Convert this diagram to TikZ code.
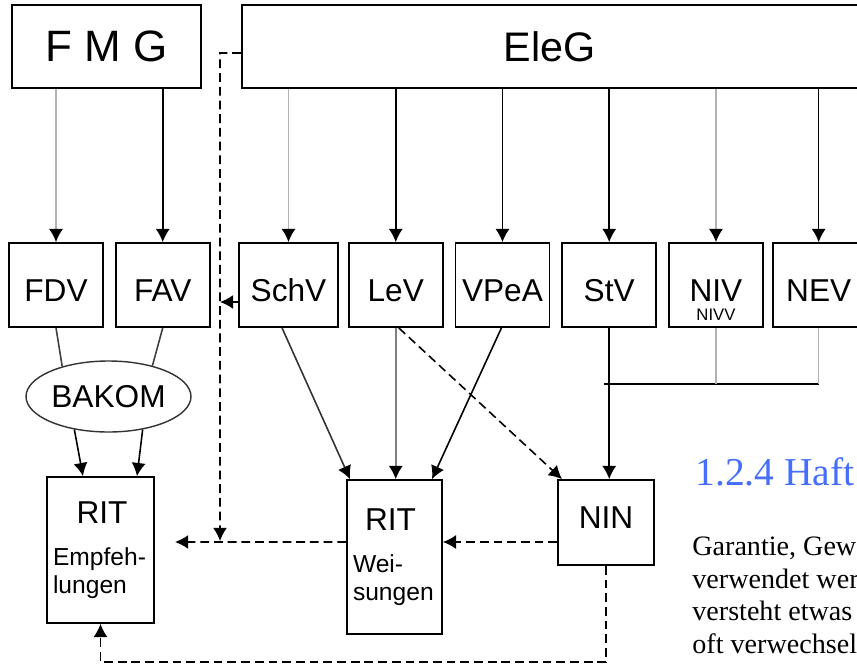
\documentclass[tikz,border=0pt]{standalone}
\usepackage{fontspec}
\setmainfont{Liberation Sans}
\newfontfamily\textserif{Liberation Serif}
\usepackage{xcolor}
\usetikzlibrary{shapes.geometric, arrows.meta, positioning}
\definecolor{headblue}{RGB}{70,110,250}

\begin{document}
\begin{tikzpicture}[
    x=0.02cm, y=-0.02cm,
    box/.style={draw, line width=1pt, inner sep=0pt, minimum width=1.88cm, minimum height=1.68cm, font=\fontsize{18}{21}\selectfont},
    rowbox/.style={box, text height=18.6pt, text depth=0pt},
    ritbox/.style={box, align=left, font=\fontsize{14}{16}\selectfont},
    arr/.style={-{Latex[length=7.5pt, width=8pt, black]}, line width=0.9pt},
    garr/.style={arr, draw=gray!60},
    darr/.style={arr, dash pattern=on 5pt off 2.8pt},
    link/.style={line width=0.9pt},
    glink/.style={link, draw=gray!60}
]
\useasboundingbox (0,0) rectangle (857,665);
\clip (0,0) rectangle (857,665);

% laws at the top
\node[box, minimum width=3.78cm, minimum height=1.66cm, font=\fontsize{25}{30}\selectfont] (fmg) at (106.5,46.5) {F M G};
\node[box, minimum width=13.2cm, minimum height=1.66cm, anchor=west,
      label={[font=\fontsize{23.5}{28}\selectfont, xshift=-0.44cm]center:EleG}] (eleg) at (241,46.5) {};

% ordinances
\node[rowbox] (fdv) at (56,285) {FDV};
\node[rowbox, right=0.22cm of fdv] (fav) {FAV};
\node[rowbox, minimum width=1.98cm] (schv) at (288.5,285) {SchV};
\node[rowbox, right=0.18cm of schv] (lev) {LeV};
\node[rowbox, right=0.22cm of lev] (vpea) {VPeA};
\node[rowbox, right=0.22cm of vpea] (stv) {StV};
\node[rowbox, right=0.22cm of stv,
      label={[font=\fontsize{9.5}{10}\selectfont, inner sep=0pt, label distance=-0.38cm]below:NIVV}] (niv) {NIV};
\node[rowbox, minimum width=1.84cm, right=0.16cm of niv] (nev) {NEV};

\node[draw, ellipse, line width=0.8pt, draw=black!80, inner sep=0pt, minimum width=3.3cm, minimum height=1.42cm,
      font=\fontsize{18}{21}\selectfont] (bakom) at (108.5,396.5) {BAKOM};

% rules
\node[ritbox, minimum width=2.14cm, minimum height=2.92cm, text width=1.9cm] (rite) at (100.5,550)
      {\hspace*{0.47cm}{\fontsize{18}{21}\selectfont RIT}\\[8pt]Empfeh-\\lungen};
\node[ritbox, minimum width=1.9cm, minimum height=3.08cm, text width=1.66cm] (ritw) at (394.5,557)
      {\hspace*{0.24cm}{\fontsize{18}{21}\selectfont RIT}\\[8pt]Wei-\\sungen};
\node[box, minimum width=1.92cm, minimum height=1.7cm, text depth=5.7pt] (nin) at (606,522.5) {NIN};

% page text beside the figure
\node[anchor=base west, inner sep=0pt, text=headblue, font=\textserif\fontsize{22.5}{27}\selectfont] (head) at (695,485) {1.2.4 Haft};
\node[anchor=base west, inner sep=0pt, font=\textserif\fontsize{16}{18}\selectfont] (bodya) at (692,555) {Garantie, Gew};
\node[anchor=base west, inner sep=0pt, font=\textserif\fontsize{16}{18}\selectfont] (bodyb) at (692,588) {verwendet wer};
\node[anchor=base west, inner sep=0pt, font=\textserif\fontsize{16}{18}\selectfont] (bodyc) at (692,620) {versteht etwas};
\node[anchor=base west, inner sep=0pt, font=\textserif\fontsize{16}{18}\selectfont] (bodyd) at (692,653) {oft verwechsel};

\coordinate (bus) at (604,384);
\coordinate (dtop) at (220,53);
\coordinate (dend) at (220,541);
\coordinate (rtip) at (175,542);
\coordinate (bot) at (606,662);

\draw[garr] (fdv |- fmg.south) -- (fdv);
\draw[arr] (fav.north |- fmg.south) -- (fav.north);
\draw[garr] (schv |- eleg.south) -- (schv);
\draw[arr] (lev |- eleg.south) -- (lev);
\draw[arr] (vpea |- eleg.south) -- (vpea);
\draw[arr] (stv |- eleg.south) -- (stv);
\draw[garr] (niv |- eleg.south) -- (niv);
\draw[arr] (nev |- eleg.south) -- (nev);

\draw[link, draw=black!75] (fdv.south) -- (bakom.147);
\draw[link, draw=black!75] (fav.south) -- (bakom.35);
\draw[arr] (bakom.224) -- ([xshift=-0.35cm]rite.north);
\draw[arr] (bakom.316) -- ([xshift=0.73cm]rite.north);

\draw[arr, draw=black!80] ([xshift=-0.13cm]schv.south) -- ([xshift=-0.89cm]ritw.north);
\draw[garr, draw=gray] (lev.south) -- (lev.south |- ritw.north);
\draw[arr] ([xshift=-0.02cm]vpea.south) -- ([xshift=0.75cm]ritw.north);
\draw[darr] ([xshift=0.06cm]lev.south) -- ([xshift=-0.88cm]nin.north);
\draw[arr] (stv.south) -- (stv.south |- nin.north);

\draw[link] (bus) -- (bus -| nev);
\draw[glink] (niv.south) -- (niv.south |- bus);
\draw[glink] (nev.south) -- (nev.south |- bus);

\draw[darr] ([yshift=-0.13cm]eleg.west) -- (dtop) -- (dend);
\draw[arr] ([yshift=-0.34cm]schv.west) -- ([yshift=-0.34cm]schv.west -| dtop);
\draw[darr] ([yshift=-0.39cm]nin.west) -- ([yshift=-0.39cm]nin.west -| ritw.east);
\draw[darr] ([yshift=-0.39cm]nin.west -| ritw.west) -- (rtip);
\draw[darr] (nin.south) -- (bot) -| (rite.south);
\end{tikzpicture}
\end{document}
